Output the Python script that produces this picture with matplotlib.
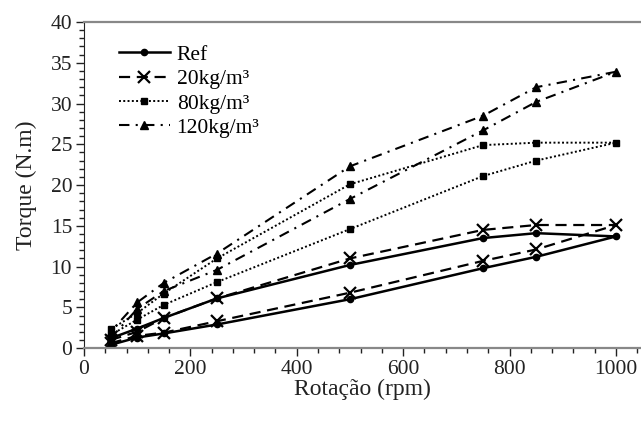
import matplotlib
matplotlib.use("Agg")
import matplotlib.pyplot as plt
from matplotlib.ticker import MultipleLocator

# Rotation (rpm): up the lower branch, then back along the upper branch
rpm = [50, 100, 150, 250, 500, 750, 850, 1000, 850, 750, 500, 250, 150, 100, 50]

ref = [0.4, 1.3, 1.8, 2.9, 6.0, 9.8, 11.2, 13.7, 14.1, 13.5, 10.2, 6.1, 3.7, 2.4, 1.2]
kg20 = [0.6, 1.5, 1.9, 3.3, 6.8, 10.7, 12.1, 15.1, 15.1, 14.5, 11.0, 6.1, 3.7, 2.0, 1.0]
kg80 = [1.6, 3.5, 5.3, 8.1, 14.6, 21.1, 23.0, 25.2, 25.2, 24.9, 20.1, 11.0, 6.7, 4.3, 2.3]
kg120 = [1.2, 4.8, 7.0, 9.6, 18.3, 26.7, 30.2, 33.9, 32.0, 28.5, 22.3, 11.6, 8.0, 5.6, 2.0]

labels = ["Ref", "20kg/m³", "80kg/m³", "120kg/m³"]

plt.rcParams['font.family'] = ['Liberation Serif', 'DejaVu Serif']

fig = plt.figure(figsize=(6.41, 4.23), dpi=100)
ax = fig.add_axes([0.131, 0.177, 0.869, 0.771])

ax.plot(rpm, ref, color='black', lw=1.8, ls='-', marker='o', ms=4.5, label=labels[0])
ax.plot(rpm, kg20, color='black', lw=1.6, ls=(0, (5, 3)), marker='x', ms=9, mew=1.6, label=labels[1])
ax.plot(rpm, kg80, color='black', lw=1.4, ls=(0, (1, 1.2)), marker='s', ms=5, label=labels[2])
ax.plot(rpm, kg120, color='black', lw=1.5, ls=(0, (5, 3, 1, 3)), marker='^', ms=6, label=labels[3])

ax.set_xlim(0, 1047)
ax.set_ylim(0, 40)
ax.xaxis.set_major_locator(MultipleLocator(200))
ax.xaxis.set_minor_locator(MultipleLocator(40))
ax.yaxis.set_major_locator(MultipleLocator(5))
ax.yaxis.set_minor_locator(MultipleLocator(1))
ax.tick_params(which='major', direction='out', length=6, width=1, labelsize=15.5,
               colors='#222222', pad=2.5)
ax.tick_params(which='minor', direction='out', length=3.5, width=1, colors='#222222')

ax.spines['right'].set_visible(False)
ax.spines['top'].set_color('#888888')
ax.spines['top'].set_linewidth(1.6)
ax.spines['bottom'].set_color('#888888')
ax.spines['bottom'].set_linewidth(1.6)
ax.spines['left'].set_color('#222222')

ax.set_xlabel('Rotação (rpm)', fontsize=17, color='#222222', labelpad=0)
ax.set_ylabel('Torque (N.m)', fontsize=17, color='#222222', labelpad=10)

leg = ax.legend(loc='upper left', bbox_to_anchor=(0.062, 0.93), frameon=False,
                fontsize=15.5, handlelength=2.4, labelspacing=0.2, handletextpad=0.3,
                borderaxespad=0, borderpad=0)

fig.savefig('out.png', dpi=100)
